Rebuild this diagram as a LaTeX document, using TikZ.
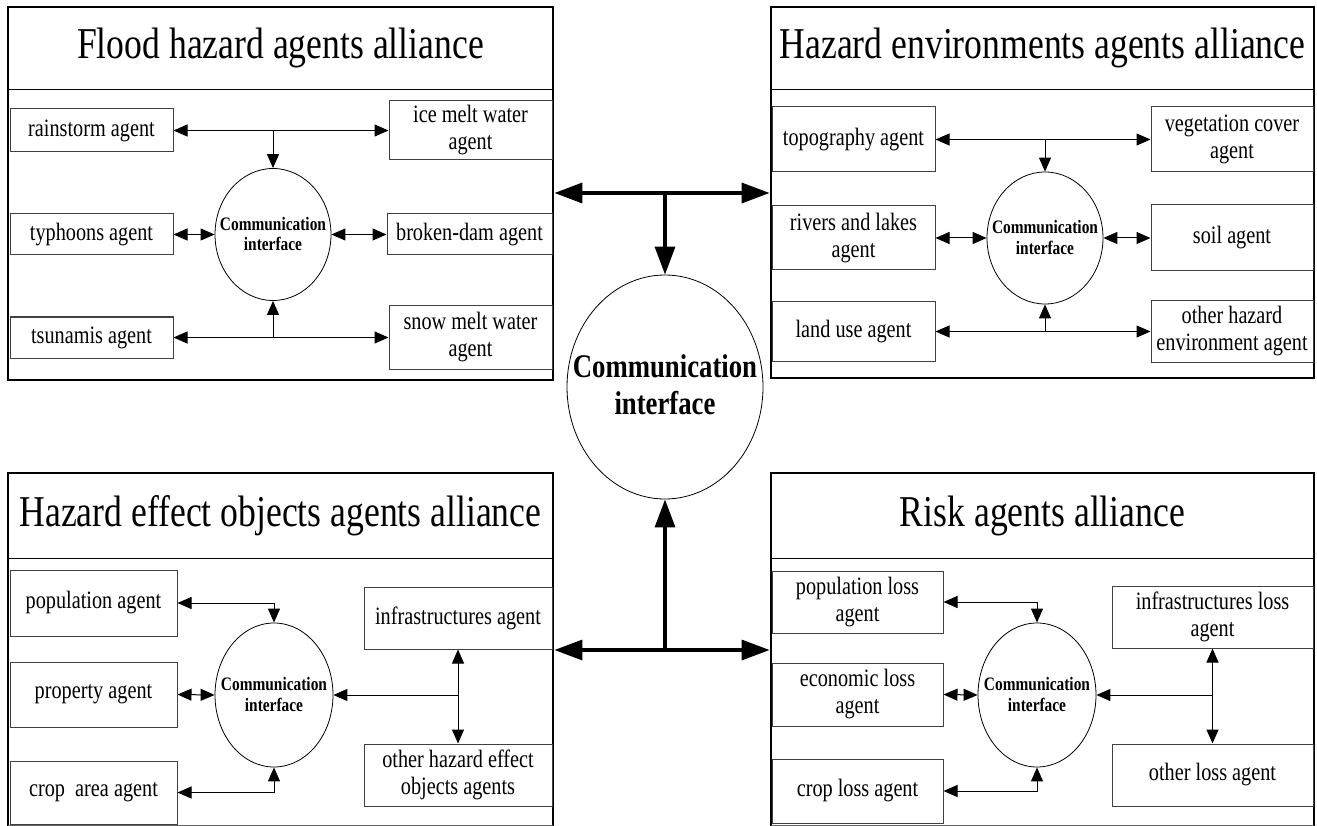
\documentclass[tikz,border=0pt]{standalone}
\usepackage{fontspec}
\setmainfont[FakeStretch=0.81]{Liberation Serif}
\usetikzlibrary{arrows.meta,shapes.geometric}
\begin{document}
\begin{tikzpicture}[x=1pt,y=-1pt,
  >={Triangle[length=14pt,width=12pt]},
  agent/.style={draw=black!75, line width=1pt, inner sep=0pt, align=center,
                font=\fontsize{25}{27}\selectfont},
  bubble/.style={draw, ellipse, line width=0.8pt, inner sep=0pt},
  blabel/.style={inner sep=0pt, align=center, font=\fontsize{19}{20.5}\selectfont\bfseries},
  biglabel/.style={inner sep=0pt, align=center, font=\fontsize{33}{37}\selectfont\bfseries},
  paneltitle/.style={inner sep=0pt, font=\fontsize{44}{48}\selectfont},
  panel/.style={draw, line width=2.8pt, inner sep=0pt},
  sep/.style={line width=1pt},
  conn/.style={line width=1pt},
  bigboth/.style={line width=3.3pt, {Triangle[length=28pt,width=20pt]}-{Triangle[length=28pt,width=20pt]}},
  bigone/.style={line width=3.3pt, -{Triangle[length=28pt,width=20pt]}}
]
\useasboundingbox (0,0) rectangle (1317,826);

% ---------- panels ----------
\node[panel, minimum width=545pt, minimum height=373pt] (P1) at (280.5,193.5) {};
\node[panel, minimum width=543pt, minimum height=371pt] (P2) at (1042.5,192.5) {};
\node[panel, minimum width=545pt, minimum height=367pt] (P3) at (280.5,656.5) {};
\node[panel, minimum width=543pt, minimum height=367pt] (P4) at (1042.5,656.5) {};
\draw[sep, draw=black!60] (8,825) -- (553,825);
\draw[sep, draw=black!60] (771,825) -- (1314,825);

\draw[sep] (8,90) -- (553,90);
\draw[sep] (771,90) -- (1314,90);
\draw[sep] (8,558) -- (553,558);
\draw[sep] (771,558) -- (1314,558);

\node[paneltitle] (T1) at (280.5,48) {Flood hazard agents alliance};
\node[paneltitle] (T2) at (1042.5,48) {Hazard environments agents alliance};
\node[paneltitle] (T3) at (280.5,515.5) {Hazard effect objects agents alliance};
\node[paneltitle] (T4) at (1042.5,515.5) {Risk agents alliance};

% ---------- top-left: flood hazard ----------
\node[agent, minimum width=163pt, minimum height=43pt] (rain) at (91.5,130.5) {rainstorm agent};
\node[agent, minimum width=163pt, minimum height=59pt] (ice) at (470.5,130.5) {ice melt water\\agent};
\node[agent, minimum width=163pt, minimum height=41pt] (typh) at (91.5,234.5) {typhoons agent};
\node[agent, minimum width=165pt, minimum height=41pt] (dam) at (469.5,234.5) {broken-dam agent};
\node[agent, minimum width=163pt, minimum height=41pt] (tsu) at (91.5,337.5) {tsunamis agent};
\node[agent, minimum width=163pt, minimum height=63pt] (snow) at (470.5,337.5) {snow melt water\\agent};
\node[bubble, minimum width=116pt, minimum height=132pt] (E1) at (273,234.5) {};
\node[blabel] (E1t) at (273,234) {Communication\\interface};

\draw[conn,<->] (rain) -- (ice);
\coordinate (j1) at (E1.north |- rain.east);
\draw[conn,->] (j1) -- (E1.north);
\draw[conn,<->] (typh.east) -- (E1.west);
\draw[conn,<->] (E1.east) -- (dam.west);
\draw[conn,<->] (tsu) -- (snow);
\coordinate (j2) at (E1.south |- tsu.east);
\draw[conn,->] (j2) -- (E1.south);

% ---------- top-right: hazard environments ----------
\node[agent, minimum width=163pt, minimum height=65pt] (topo) at (853.5,139.5) {topography agent};
\node[agent, minimum width=162pt, minimum height=65pt] (veg) at (1232,139.5) {vegetation cover\\agent};
\node[agent, minimum width=163pt, minimum height=64pt] (riv) at (853.5,238) {rivers and lakes\\agent};
\node[agent, minimum width=162pt, minimum height=66pt] (soil) at (1232,238) {soil agent};
\node[agent, minimum width=163pt, minimum height=59pt] (land) at (853.5,331.5) {land use agent};
\node[agent, minimum width=162pt, minimum height=61pt] (oenv) at (1232,331.5) {other hazard\\environment agent};
\node[bubble, minimum width=116pt, minimum height=132pt] (E2) at (1045,238) {};
\node[blabel] (E2t) at (1045,237.5) {Communication\\interface};

\draw[conn,<->] (topo) -- (veg);
\coordinate (j3) at (E2.north |- topo.east);
\draw[conn,->] (j3) -- (E2.north);
\draw[conn,<->] (riv.east) -- (E2.west);
\draw[conn,<->] (E2.east) -- (soil.west);
\draw[conn,<->] (land) -- (oenv);
\coordinate (j4) at (E2.south |- land.east);
\draw[conn,->] (j4) -- (E2.south);

% ---------- bottom-left: hazard effect objects ----------
\node[agent, minimum width=167pt, minimum height=66pt] (pop) at (93.5,603) {population agent};
\node[agent, minimum width=167pt, minimum height=65pt] (prop) at (93.5,694.5) {property agent};
\node[agent, minimum width=167pt, minimum height=63pt] (crop) at (93.5,792.5) {crop\ \ area agent};
\node[agent, minimum width=188pt, minimum height=62pt] (infra) at (458,618) {infrastructures agent};
\node[agent, minimum width=188pt, minimum height=62pt] (ofx) at (458,775) {other hazard effect\\objects agents};
\node[bubble, minimum width=118pt, minimum height=144pt] (E3) at (274,695) {};
\node[blabel] (E3t) at (274,694.5) {Communication\\interface};

\draw[conn,<->] (pop.east) -| (E3.north);
\draw[conn,<->] (prop.east) -- (E3.west);
\draw[conn,<->] (crop.east) -| (E3.south);
\draw[conn,<->] (infra.south) -- (ofx.north);
\coordinate (j5) at (infra.south |- E3.east);
\draw[conn,->] (j5) -- (E3.east);

% ---------- bottom-right: risk ----------
\node[agent, minimum width=171pt, minimum height=62pt] (ploss) at (857.5,602) {population loss\\agent};
\node[agent, minimum width=171pt, minimum height=63pt] (eloss) at (857.5,694.5) {economic loss\\agent};
\node[agent, minimum width=171pt, minimum height=64pt] (closs) at (857.5,791) {crop loss agent};
\node[agent, minimum width=201pt, minimum height=62pt] (iloss) at (1212.5,617) {infrastructures loss\\agent};
\node[agent, minimum width=201pt, minimum height=62pt] (oloss) at (1212.5,775) {other loss agent};
\node[bubble, minimum width=118pt, minimum height=144pt] (E4) at (1037,695) {};
\node[blabel] (E4t) at (1037,694.5) {Communication\\interface};

\draw[conn,<->] (ploss.east) -| (E4.north);
\draw[conn,<->] (eloss.east) -- (E4.west);
\draw[conn,<->] (closs.east) -| (E4.south);
\draw[conn,<->] (iloss.south) -- (oloss.north);
\coordinate (j6) at (iloss.south |- E4.east);
\draw[conn,->] (j6) -- (E4.east);

% ---------- central interface ----------
\node[bubble, minimum width=196pt, minimum height=224pt] (C) at (665,387) {};
\node[biglabel] (Ct) at (665,385) {Communication\\interface};
\coordinate (ct) at (665,193);
\coordinate (cb) at (665,650);
\draw[bigboth] (P1.east |- ct) -- (P2.west |- ct);
\draw[bigone] (ct) -- (C.north);
\draw[bigboth] (P3.east |- cb) -- (P4.west |- cb);
\draw[bigone] (cb) -- (C.south);
\end{tikzpicture}
\end{document}
